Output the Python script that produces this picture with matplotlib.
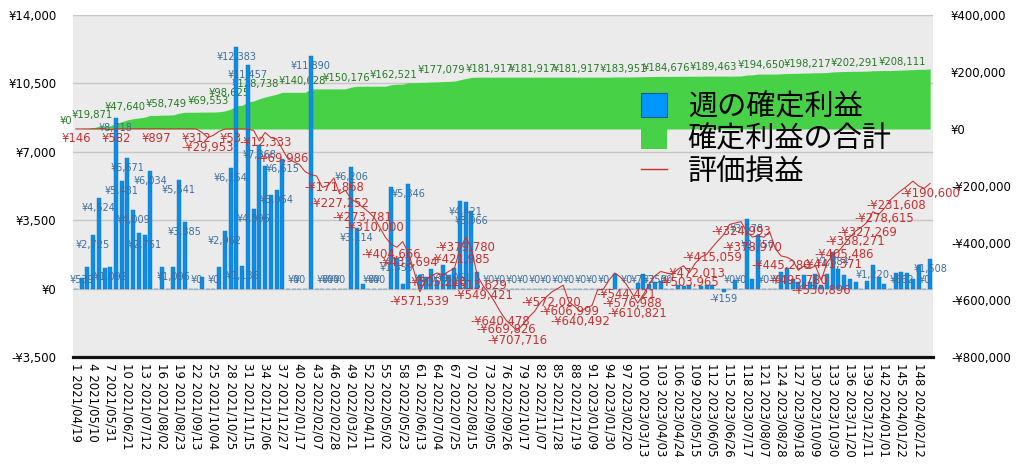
import matplotlib
matplotlib.use("Agg")
import matplotlib.pyplot as plt
from matplotlib.patches import Patch
from matplotlib.lines import Line2D
import numpy as np

plt.rcParams['font.family'] = ['DejaVu Sans', 'Noto Sans CJK JP']

# 週の確定利益 (週ごと, 150週)
weekly = [
    0, 539, 1113, 2725, 4624, 1060, 1092, 8718, 5481, 6671,
    4009, 2823, 2751, 6034, 0, 1087, 0, 1096, 5541, 3385,
    0, 0, 588, 0, 0, 1100, 2962, 6154, 12383, 1136,
    11457, 4096, 7368, 6276, 4800, 5054, 6615, 0, 0, 0,
    0, 11890, 0, 0, 0, 0, 0, 0, 6206, 3114,
    228, 0, 0, 0, 0, 5197, 1559, 243, 5346, 0,
    700, 576, 1000, 400, 1200, 700, 1061, 4500, 4421, 3966,
    872, 0, 0, 0, 0, 0, 0, 0, 0, 0,
    0, 0, 0, 0, 0, 0, 0, 0, 0, 0,
    0, 0, 0, 0, 766, 0, 0, 0, 300, 752,
    216, 350, 375, 0, 0, 160, 130, 170, 0, 143,
    160, 180, 0, -159, 0, 425, 0, 3578, 510, 2750,
    0, 0, 0, 860, 1067, 510, 340, 680, 340, 770,
    170, 757, 1884, 1000, 680, 510, 340, 0, 400, 1220,
    593, 255, 0, 820, 862, 820, 510, 1190, 0, 1508,
]

# 確定利益の合計
cumulative = [
    0, 539, 1652, 4377, 9001, 10061, 11153, 19871, 25352, 32023,
    36032, 38855, 41606, 47640, 47640, 48727, 48727, 49823, 55364, 58749,
    58749, 58749, 59337, 59337, 59337, 60437, 63399, 69553, 81936, 83072,
    94529, 98625, 105993, 112269, 117069, 122123, 128738, 128738, 128738, 128738,
    128738, 140628, 140628, 140628, 140628, 140628, 140628, 140628, 146834, 149948,
    150176, 150176, 150176, 150176, 150176, 155373, 156932, 157175, 162521, 162521,
    163221, 163797, 164797, 165197, 166397, 167097, 168158, 172658, 177079, 181045,
    181917, 181917, 181917, 181917, 181917, 181917, 181917, 181917, 181917, 181917,
    181917, 181917, 181917, 181917, 181917, 181917, 181917, 181917, 181917, 181917,
    181917, 181917, 181917, 181917, 182683, 182683, 182683, 182683, 182983, 183735,
    183951, 184301, 184676, 184676, 184676, 184836, 184966, 185136, 185136, 185279,
    185439, 185619, 185619, 185460, 185460, 185885, 185885, 189463, 189973, 192723,
    192723, 192723, 192723, 193583, 194650, 195160, 195500, 196180, 196520, 197290,
    197460, 198217, 200101, 201101, 201781, 202291, 202631, 202631, 203031, 204251,
    204844, 205099, 205099, 205919, 206781, 207601, 208111, 209301, 209301, 210809,
]

# 評価損益
unrealized = [
    146, 300, 450, 250, 600, 400, -2500, 582, 700, 300,
    800, 600, 900, 700, 897, 500, 300, 600, 400, 200,
    350, 312, -12000, -29953, -22000, -8000, 0, 53, 100, 80,
    -500, -5000, -42000, -12333, -30000, -35000, -69986, -105000, -115000, -125000,
    -150000, -160000, -165000, -205000, -198000, -171868, -227252, -215000, -245000, -258000,
    -273781, -290000, -310000, -345000, -380000, -404666, -415000, -395000, -433694, -500000,
    -571539, -530000, -515000, -505210, -512000, -500000, -490000, -421985, -379780, -420000,
    -513629, -549421, -575000, -605000, -640478, -669826, -690000, -707716, -685000, -660000,
    -640000, -610000, -590000, -572020, -560000, -548000, -606999, -622000, -640492, -628000,
    -620000, -565000, -562000, -530000, -505000, -520000, -544421, -576988, -610821, -580000,
    -545000, -515000, -500000, -505000, -510000, -492000, -480000, -503965, -472013, -450000,
    -440000, -415059, -392000, -370000, -335000, -330000, -324993, -360000, -378970, -375000,
    -380000, -360000, -420000, -445280, -450000, -460000, -495780, -480000, -490000, -480000,
    -530896, -470000, -441371, -430000, -405486, -380000, -358271, -345000, -327269, -290000,
    -300000, -278615, -250000, -231608, -215000, -200000, -183000, -200000, -208000, -190600,
]

tick_dates = [
    "2021/04/19", "2021/05/10", "2021/05/31", "2021/06/21", "2021/07/12",
    "2021/08/02", "2021/08/23", "2021/09/13", "2021/10/04", "2021/10/25",
    "2021/11/15", "2021/12/06", "2021/12/27", "2022/01/17", "2022/02/07",
    "2022/02/28", "2022/03/21", "2022/04/11", "2022/05/02", "2022/05/23",
    "2022/06/13", "2022/07/04", "2022/07/25", "2022/08/15", "2022/09/05",
    "2022/09/26", "2022/10/17", "2022/11/07", "2022/11/28", "2022/12/19",
    "2023/01/09", "2023/01/30", "2023/02/20", "2023/03/13", "2023/04/03",
    "2023/04/24", "2023/05/15", "2023/06/05", "2023/06/26", "2023/07/17",
    "2023/08/07", "2023/08/28", "2023/09/18", "2023/10/09", "2023/10/30",
    "2023/11/20", "2023/12/11", "2024/01/01", "2024/01/22", "2024/02/12",
]
tick_weeks = list(range(1, 149, 3))

# どの週にラベルを付けるか
bar_label_weeks = [2, 4, 5, 7, 8, 9, 10, 11, 13, 14, 18, 19, 20, 22, 25, 27, 28, 29, 30, 31,
                   32, 33, 36, 37, 39, 40, 42, 44, 45, 46, 47, 49, 50, 52, 53, 54, 57, 59, 63,
                   67, 69, 70, 73, 75, 77, 79, 81, 83, 85, 87, 89, 91, 93, 97, 100, 102, 104,
                   114, 115, 117, 118, 120, 121, 123, 133, 140, 145, 149, 150]
red_label_weeks = [1, 8, 15, 22, 24, 28, 34, 37, 46, 47, 51, 53, 56, 59, 61, 64, 68, 69, 71,
                   72, 75, 76, 78, 84, 87, 89, 97, 98, 99, 108, 109, 112, 117, 119, 124, 127,
                   131, 133, 135, 137, 139, 142, 144, 150]
green_label_weeks = [1, 8, 15, 22, 28, 32, 37, 42, 51, 59, 69, 71, 81, 88, 101, 103, 118,
                     125, 132, 136, 147]
# ラベルの横ずれ (週単位, 元グラフの重なり回避を再現)
green_label_shift = [-1.7, -4.2, -5.4, -5.2, -4.0, -4.2, -4.7, -1.6, -2.8, -2.6, -4.2, 2.1,
                     -0.3, 0.3, -4.5, 0.9, -5.8, -4.5, -3.5, 0.7, -1.9]

BLUE = '#0a8fe8'
GREEN = '#47d147'
RED = '#c8302f'


def yen(v):
    return f"-¥{-v:,}" if v < 0 else f"¥{v:,}"


weeks = np.arange(1, len(weekly) + 1)

fig = plt.figure(figsize=(10.24, 4.74), dpi=100)
ax = fig.add_axes([73 / 1024, 1 - 357 / 474, 860 / 1024, 342 / 474])
ax.set_facecolor('#ebebeb')
ax.set_xlim(0.5, 150.5)
ax.set_ylim(-3500, 14000)
left_ticks = np.arange(-3500, 14001, 3500)
ax.set_yticks(left_ticks)
ax.set_yticklabels([yen(int(v)) for v in left_ticks])
ax.grid(axis='y', color='#c6c6c6', lw=1)
ax.set_axisbelow(True)
for s in ['top', 'left', 'right']:
    ax.spines[s].set_visible(False)
ax.spines['bottom'].set_linewidth(2.3)
ax.spines['bottom'].set_color('#111111')
ax.set_xticks(tick_weeks)
ax.set_xticklabels([f"{w} {d}" for w, d in zip(tick_weeks, tick_dates)], rotation=270, fontsize=8.5)
ax.tick_params(axis='x', length=0, pad=4)
ax.tick_params(axis='y', length=0, pad=12, labelsize=8.5)

# 右軸: 確定利益の合計
axr = ax.twinx()
axr.set_ylim(-800000, 400000)
right_ticks = np.arange(-800000, 400001, 200000)
axr.set_yticks(right_ticks)
axr.set_yticklabels([yen(int(v)) for v in right_ticks])
axr.tick_params(axis='y', length=0, pad=13, labelsize=8.5)
axr.fill_between(weeks, 0, cumulative, color=GREEN, lw=0)
for w, dx in zip(green_label_weeks, green_label_shift):
    axr.annotate(yen(cumulative[w - 1]), xy=(w + dx, cumulative[w - 1]), xytext=(0, 5.8),
                 textcoords='offset points', ha='center', va='center',
                 fontsize=7.2, color='#267a26', annotation_clip=False)

# 棒グラフ: 週の確定利益
axb = ax.twinx()
axb.set_ylim(-3500, 14000)
axb.set_yticks([])
axb.bar(weeks, weekly, width=0.7, color=BLUE, edgecolor='#1a6db5', lw=0.3)
for w in bar_label_weeks:
    v = weekly[w - 1]
    if v < 0:
        xy, off = (w, v), -5
    elif v > 970:
        xy, off = (w, v), -7.2
    else:
        xy, off = (w, 0), 6.5
    axb.annotate(yen(v), xy=xy, xytext=(0, off), textcoords='offset points',
                 ha='center', va='center', fontsize=7, color='#3d6f9e', annotation_clip=False)

# 評価損益
axl = ax.twinx()
axl.set_ylim(-800000, 400000)
axl.set_yticks([])
axl.plot(weeks, unrealized, color=RED, lw=0.75)
for w in red_label_weeks:
    axl.annotate(yen(unrealized[w - 1]), xy=(w, unrealized[w - 1]), xytext=(0, -7.2),
                 textcoords='offset points', ha='center', va='center',
                 fontsize=8.4, color=RED, annotation_clip=False)

for a in (axr, axb, axl):
    for s in a.spines.values():
        s.set_visible(False)

handles = [
    Patch(facecolor='#0096ff', edgecolor='#1c5a93', lw=0.8),
    Patch(facecolor=GREEN, edgecolor='none'),
    Line2D([0], [0], color=RED, lw=1),
]
axl.legend(handles, ['週の確定利益', '確定利益の合計', '評価損益'],
           prop={'family': 'Noto Sans CJK JP', 'size': 21},
           loc='upper left', bbox_to_anchor=(641 / 1024, 1 - 92 / 474),
           bbox_transform=fig.transFigure, frameon=False, borderpad=0,
           borderaxespad=0, handlelength=0.9, handleheight=0.9,
           handletextpad=0.7, labelspacing=0.08)

fig.savefig('out.png', dpi=100)
